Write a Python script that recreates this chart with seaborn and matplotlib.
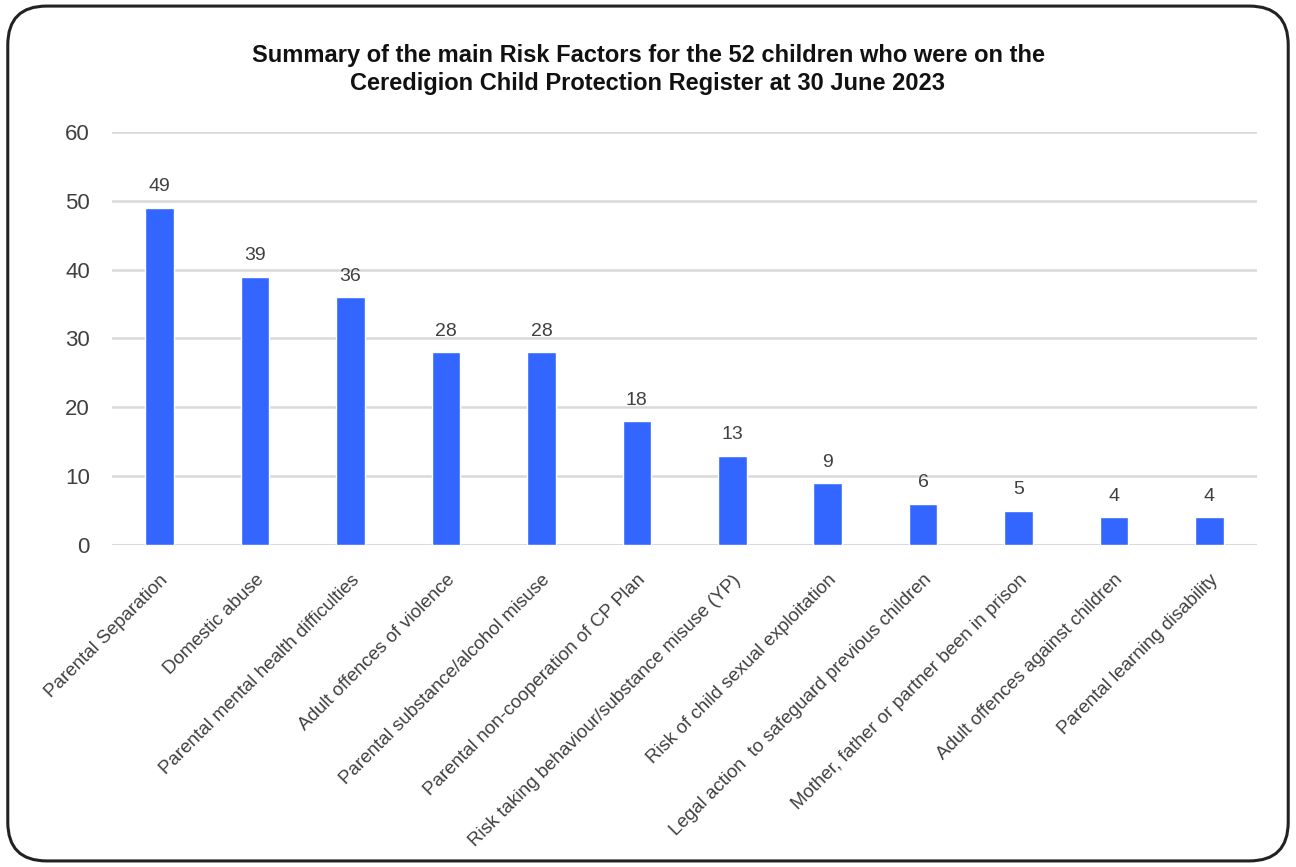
import matplotlib
matplotlib.use("Agg")
import matplotlib.pyplot as plt
from matplotlib.patches import FancyBboxPatch
import seaborn as sns
import pandas as pd

categories = [
    "Parental Separation",
    "Domestic abuse",
    "Parental mental health difficulties",
    "Adult offences of violence",
    "Parental substance/alcohol misuse",
    "Parental non-cooperation of CP Plan",
    "Risk taking behaviour/substance misuse (YP)",
    "Risk of child sexual exploitation",
    "Legal action  to safeguard previous children",
    "Mother, father or partner been in prison",
    "Adult offences against children",
    "Parental learning disability",
]
counts = [49, 39, 36, 28, 28, 18, 13, 9, 6, 5, 4, 4]
yticks = [0, 10, 20, 30, 40, 50, 60]
title = ("Summary of the main Risk Factors for the 52 children who were on the\n"
         "Ceredigion Child Protection Register at 30 June 2023")

df = pd.DataFrame({"factor": categories, "count": counts})

sns.set_style("white")
plt.rcParams["font.family"] = ["Liberation Sans", "DejaVu Sans"]

fig = plt.figure(figsize=(12.96, 8.67), dpi=100)
ax = fig.add_axes([0.0864, 0.3714, 0.8836, 0.4764])

sns.barplot(data=df, x="factor", y="count", color="#3366FF", width=0.30,
            saturation=1, ax=ax, zorder=3)

# value labels over bars
for i, v in enumerate(counts):
    ax.text(i, v + 1.8, str(v), ha="center", va="bottom", fontsize=14,
            color="#404040")

ax.set_ylim(0, 60)
ax.set_yticks(yticks)
ax.set_xlim(-0.5, len(categories) - 0.5)
ax.yaxis.grid(True, color="#d9d9d9", linewidth=1.8, zorder=0)
ax.set_axisbelow(True)
for s in ax.spines.values():
    s.set_visible(False)
ax.axhline(0, color="#d9d9d9", linewidth=2.2, zorder=2)
ax.set_xlabel("")
ax.set_ylabel("")
ax.tick_params(axis="y", labelsize=16, colors="#404040", length=0, pad=16)
ax.tick_params(axis="x", length=0, pad=19)
ax.set_xticks(range(len(categories)))
ax.set_xticklabels(categories, rotation=45, ha="right", rotation_mode="anchor",
                   fontsize=13.5, color="#404040")

fig.text(0.5, 0.92, title, ha="center", va="center", fontsize=17,
         fontweight="bold", color="#111111", linespacing=1.3)

# rounded frame round the whole chart
border = FancyBboxPatch((0.006, 0.007), 0.988, 0.986,
                        boxstyle="round,pad=0,rounding_size=0.03",
                        transform=fig.transFigure, fill=False,
                        edgecolor="#222222", linewidth=2.2, mutation_aspect=1296/867)
fig.patches.append(border)

fig.savefig("out.png", dpi=100)
